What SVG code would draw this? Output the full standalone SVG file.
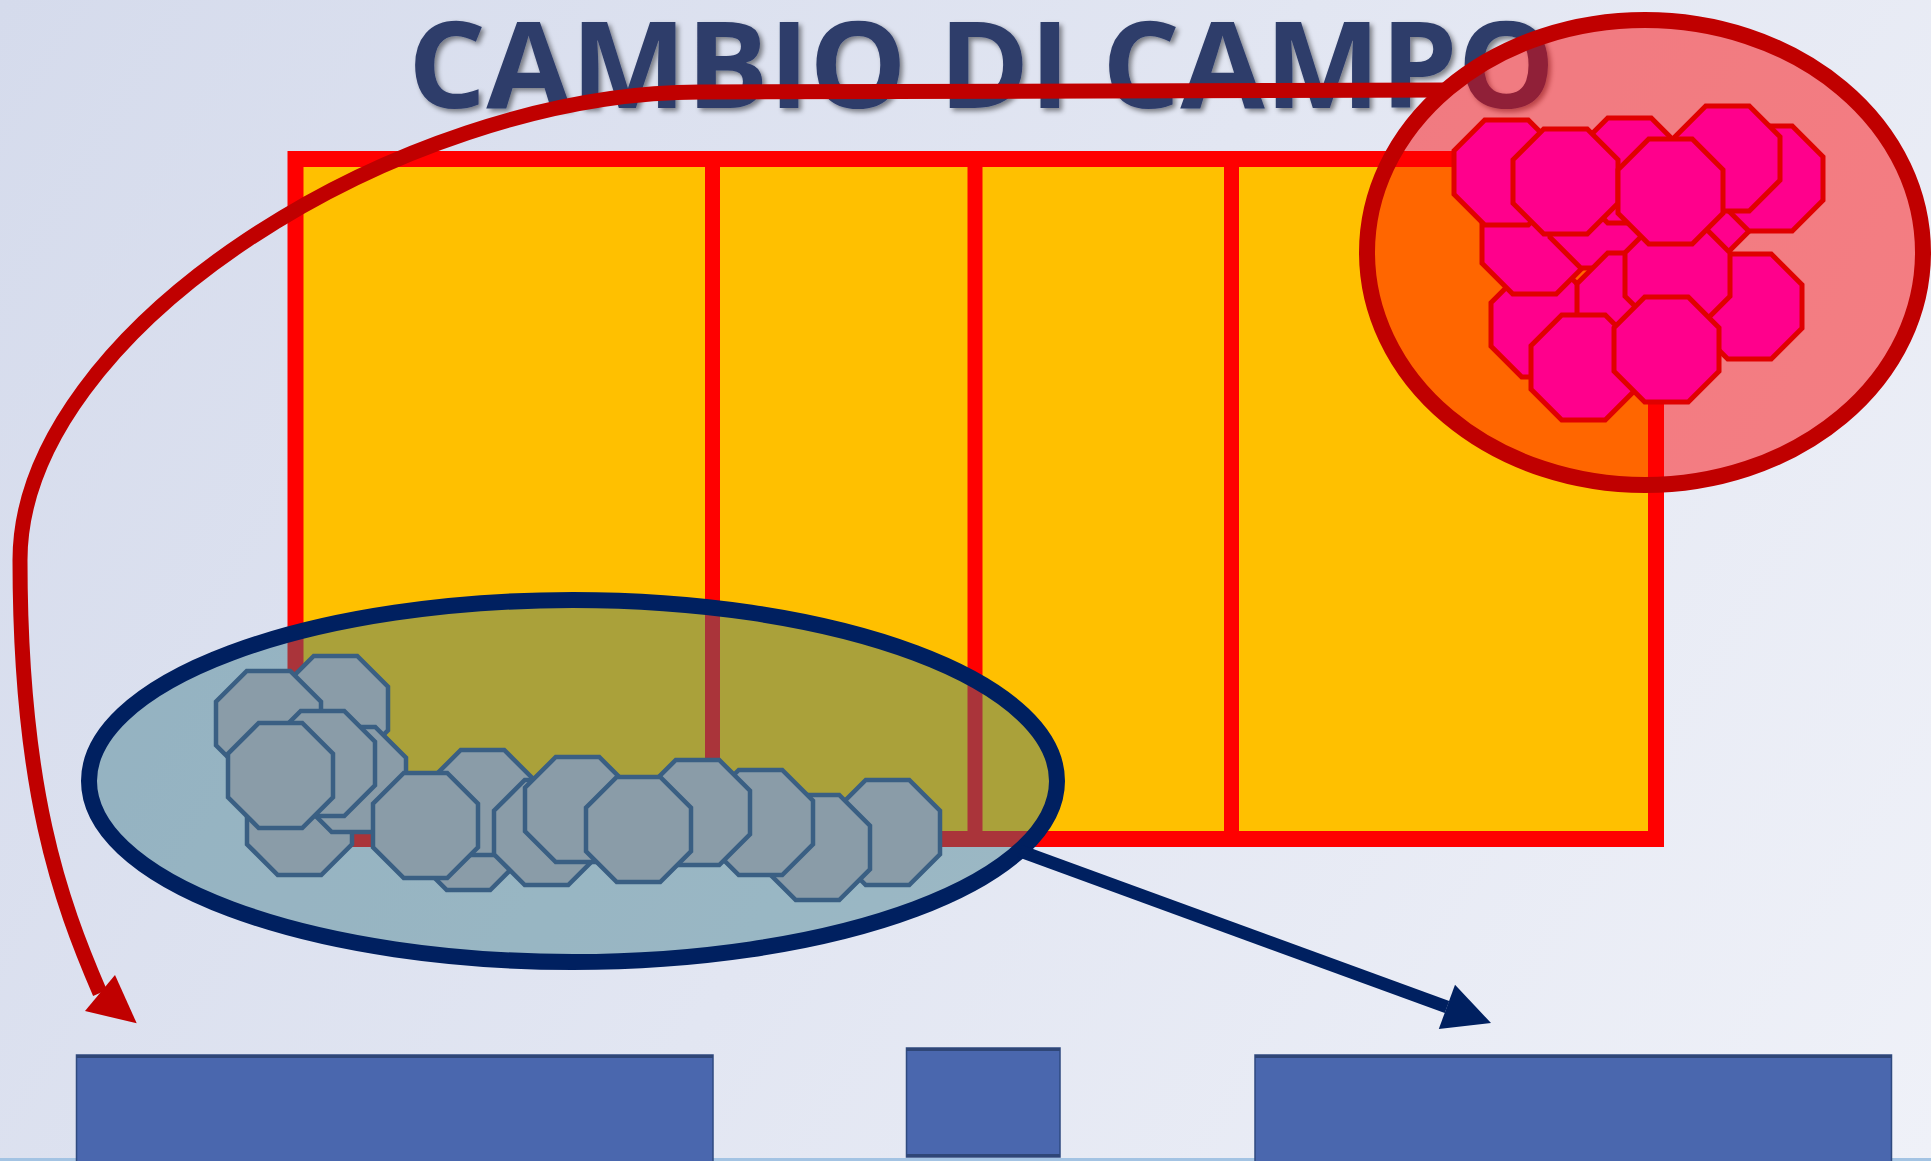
<svg xmlns="http://www.w3.org/2000/svg" xmlns:xlink="http://www.w3.org/1999/xlink" width="1931" height="1161" viewBox="0 0 1931 1161">
<style>
.court{fill:#FFC000;stroke:#FF0000;stroke-width:16}
.net{stroke:#FF0000;stroke-width:15}
.pink{fill:#FF008C;stroke:#E00000;stroke-width:5;stroke-linejoin:miter}
.gray{fill:#8A9CA8;stroke:#3A5F83;stroke-width:4.5;stroke-linejoin:miter}
.bench{fill:#4A67AE;stroke:#2F4A80;stroke-width:1.5}
.benchedge{fill:#2F4677}
.title{font-family:'Open Sans','Liberation Sans',sans-serif;font-weight:700;font-size:121px;fill:#2E3D6B}
</style>
<defs>
<linearGradient id="bg" gradientUnits="userSpaceOnUse" x1="0" y1="0" x2="1931" y2="1161">
<stop offset="0" stop-color="#D5DBEC"/>
<stop offset="1" stop-color="#EFF1F8"/>
</linearGradient>
<filter id="shadow" x="-5%" y="-20%" width="110%" height="150%">
<feDropShadow dx="3" dy="3" stdDeviation="2.5" flood-color="#000" flood-opacity="0.45"/>
</filter>
<polygon id="oct" points="30.75,0 74.25,0 105,30.75 105,74.25 74.25,105 30.75,105 0,74.25 0,30.75"/>
</defs>

<rect id="background" x="0" y="0" width="1931" height="1161" fill="url(#bg)"/>
<rect x="0" y="1158" width="1931" height="3" fill="#A3C3E3"/>

<g id="title">
<text class="title" x="408" y="108" textLength="1147" lengthAdjust="spacingAndGlyphs" filter="url(#shadow)">CAMBIO DI CAMPO</text>
</g>

<g id="court">
<rect class="court" x="295.5" y="159" width="1360.5" height="680"/>
<line class="net" x1="712.5" y1="159" x2="712.5" y2="839"/>
<line class="net" x1="975" y1="159" x2="975" y2="839"/>
<line class="net" x1="1231.5" y1="159" x2="1231.5" y2="839"/>
</g>

<g id="zone-red">
<ellipse cx="1645" cy="252.5" rx="278" ry="232.5" fill="#FF0000" fill-opacity="0.47" stroke="#C00000" stroke-width="16"/>
</g>

<g id="zone-blue">
<ellipse cx="573" cy="781" rx="484" ry="181" fill="rgb(58,121,135)" fill-opacity="0.43" stroke="#002060" stroke-width="16"/>
</g>

<g id="players-red" class="pink">
<use id="p13" xlink:href="#oct" href="#oct" x="1491" y="272"/>
<use id="p7" xlink:href="#oct" href="#oct" x="1482" y="189"/>
<use id="p8" xlink:href="#oct" href="#oct" x="1550" y="163"/>
<use id="p1" xlink:href="#oct" href="#oct" x="1454" y="120"/>
<use id="p3" xlink:href="#oct" href="#oct" x="1577" y="118"/>
<use id="p15" xlink:href="#oct" href="#oct" x="1654" y="147"/>
<use id="p5" xlink:href="#oct" href="#oct" x="1718" y="126"/>
<use id="p4" xlink:href="#oct" href="#oct" x="1675" y="106"/>
<use id="p2" xlink:href="#oct" href="#oct" x="1513" y="129"/>
<use id="p9" xlink:href="#oct" href="#oct" x="1577" y="253"/>
<use id="p11" xlink:href="#oct" href="#oct" x="1697" y="254"/>
<use id="p10" xlink:href="#oct" href="#oct" x="1625" y="222"/>
<use id="p6" xlink:href="#oct" href="#oct" x="1618" y="139"/>
<use id="p14" xlink:href="#oct" href="#oct" x="1531" y="315"/>
<use id="p12" xlink:href="#oct" href="#oct" x="1614" y="297"/>
</g>

<g id="players-blue" class="gray">
<use id="g2" xlink:href="#oct" href="#oct" x="283" y="656"/>
<use id="g1" xlink:href="#oct" href="#oct" x="216" y="671"/>
<use id="g5" xlink:href="#oct" href="#oct" x="247" y="770"/>
<use id="g6" xlink:href="#oct" href="#oct" x="301" y="727"/>
<use id="g3" xlink:href="#oct" href="#oct" x="270" y="711"/>
<use id="g4" xlink:href="#oct" href="#oct" x="228" y="723"/>
<use id="g9" xlink:href="#oct" href="#oct" x="416" y="785"/>
<use id="g8" xlink:href="#oct" href="#oct" x="430" y="750"/>
<use id="g7" xlink:href="#oct" href="#oct" x="373" y="773"/>
<use id="g10" xlink:href="#oct" href="#oct" x="494" y="780"/>
<use id="g11" xlink:href="#oct" href="#oct" x="525" y="757"/>
<use id="g16" xlink:href="#oct" href="#oct" x="835" y="780"/>
<use id="g15" xlink:href="#oct" href="#oct" x="765" y="795"/>
<use id="g14" xlink:href="#oct" href="#oct" x="708" y="770"/>
<use id="g13" xlink:href="#oct" href="#oct" x="645" y="760"/>
<use id="g12" xlink:href="#oct" href="#oct" x="586" y="777"/>
</g>

<g id="bench-left">
<rect class="bench" x="76.5" y="1055" width="636.5" height="112"/>
<rect class="benchedge" x="76.5" y="1055" width="636.5" height="3"/>
</g>
<g id="scorer">
<rect class="bench" x="906.5" y="1048" width="153.5" height="109"/>
<rect class="benchedge" x="906.5" y="1048" width="153.5" height="3"/>
<rect class="benchedge" x="906.5" y="1154" width="153.5" height="3"/>
</g>
<g id="bench-right">
<rect class="bench" x="1255" y="1055" width="636.5" height="112"/>
<rect class="benchedge" x="1255" y="1055" width="636.5" height="3"/>
</g>

<g id="connectors">
<path d="M1448,90 L700,92 C400,92 20,330 20,560 C20,790 60,900 100,993" fill="none" stroke="#C00000" stroke-width="15"/>
<polygon points="85,1011 136.7,1023.3 115,975" fill="#C00000"/>
<line x1="1020" y1="851" x2="1447" y2="1007" stroke="#002060" stroke-width="13"/>
<polygon points="1491,1023 1455,984.8 1438.8,1029" fill="#002060"/>
</g>
</svg>
